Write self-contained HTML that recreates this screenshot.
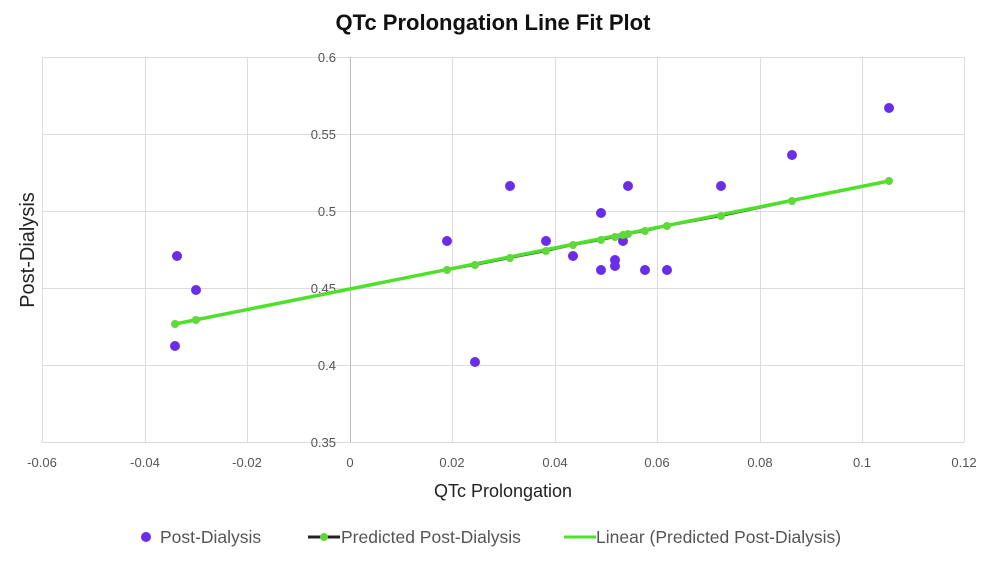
<!DOCTYPE html>
<html><head><meta charset="utf-8"><style>
html,body{margin:0;padding:0;background:#fff;}
svg{display:block;font-family:"Liberation Sans",sans-serif;}
</style></head><body>
<svg width="993" height="561" viewBox="0 0 993 561" xmlns="http://www.w3.org/2000/svg">
<rect width="993" height="561" fill="#fff"/>
<text x="493" y="30" text-anchor="middle" font-size="22" font-weight="bold" fill="#111">QTc Prolongation Line Fit Plot</text>
<g stroke="#dcdcdc" stroke-width="1">
<line x1="42" y1="57.5" x2="964" y2="57.5"/>
<line x1="42" y1="134.5" x2="964" y2="134.5"/>
<line x1="42" y1="211.5" x2="964" y2="211.5"/>
<line x1="42" y1="288.5" x2="964" y2="288.5"/>
<line x1="42" y1="365.5" x2="964" y2="365.5"/>
<line x1="42" y1="442.5" x2="964" y2="442.5"/>
<line x1="42.5" y1="57" x2="42.5" y2="442"/>
<line x1="145.5" y1="57" x2="145.5" y2="442"/>
<line x1="247.5" y1="57" x2="247.5" y2="442"/>
<line x1="452.5" y1="57" x2="452.5" y2="442"/>
<line x1="555.5" y1="57" x2="555.5" y2="442"/>
<line x1="657.5" y1="57" x2="657.5" y2="442"/>
<line x1="760.5" y1="57" x2="760.5" y2="442"/>
<line x1="862.5" y1="57" x2="862.5" y2="442"/>
<line x1="964.5" y1="57" x2="964.5" y2="442"/>
</g>
<line x1="350.5" y1="57" x2="350.5" y2="442" stroke="#bbb"/>
<g font-size="13" fill="#555" text-anchor="end">
<text x="336" y="62">0.6</text><text x="336" y="139">0.55</text><text x="336" y="216">0.5</text>
<text x="336" y="293">0.45</text><text x="336" y="370">0.4</text><text x="336" y="447">0.35</text>
</g>
<g font-size="13" fill="#555" text-anchor="middle">
<text x="42" y="467">-0.06</text><text x="145" y="467">-0.04</text><text x="247" y="467">-0.02</text>
<text x="350" y="467">0</text><text x="452" y="467">0.02</text><text x="555" y="467">0.04</text>
<text x="657" y="467">0.06</text><text x="760" y="467">0.08</text><text x="862" y="467">0.1</text><text x="964" y="467">0.12</text>
</g>
<text x="503" y="497" text-anchor="middle" font-size="18" fill="#222">QTc Prolongation</text>
<text transform="translate(34,250) rotate(-90)" text-anchor="middle" font-size="20" fill="#222">Post-Dialysis</text>
<g fill="#6a2ee8">
<circle cx="177" cy="256" r="5"/><circle cx="196" cy="290" r="5"/><circle cx="175" cy="346" r="5"/>
<circle cx="447" cy="241" r="5"/><circle cx="475" cy="362" r="5"/><circle cx="510" cy="186" r="5"/>
<circle cx="546" cy="241" r="5"/><circle cx="573" cy="256" r="5"/><circle cx="601" cy="213" r="5"/>
<circle cx="601" cy="270" r="5"/><circle cx="615" cy="260" r="5"/><circle cx="615" cy="266" r="5"/>
<circle cx="623" cy="241" r="5"/><circle cx="628" cy="186" r="5"/><circle cx="645" cy="270" r="5"/>
<circle cx="667" cy="270" r="5"/><circle cx="721" cy="186" r="5"/><circle cx="792" cy="155" r="5"/>
<circle cx="889" cy="108" r="5"/>
</g>
<polyline points="175,324 196,320 447,270 475,265 510,258 546,251 573,245 601,240 615,237 623,235 628,234 645,231 667,226 721,216 792,201 889,181" fill="none" stroke="#222" stroke-width="2"/>
<line x1="175" y1="324" x2="889" y2="181" stroke="#4fe02c" stroke-width="3.5"/>
<g fill="#5fd93a">
<circle cx="175" cy="324" r="4"/><circle cx="196" cy="320" r="4"/><circle cx="447" cy="270" r="4"/>
<circle cx="475" cy="265" r="4"/><circle cx="510" cy="258" r="4"/><circle cx="546" cy="251" r="4"/>
<circle cx="573" cy="245" r="4"/><circle cx="601" cy="240" r="4"/><circle cx="615" cy="237" r="4"/>
<circle cx="623" cy="235" r="4"/><circle cx="628" cy="234" r="4"/><circle cx="645" cy="231" r="4"/>
<circle cx="667" cy="226" r="4"/><circle cx="721" cy="216" r="4"/><circle cx="792" cy="201" r="4"/>
<circle cx="889" cy="181" r="4"/>
</g>
<g font-size="17.5" fill="#555">
<circle cx="146" cy="537" r="5" fill="#6a2ee8"/>
<text x="160" y="543">Post-Dialysis</text>
<line x1="308" y1="537" x2="340" y2="537" stroke="#222" stroke-width="3"/>
<circle cx="324" cy="537" r="4" fill="#5fd93a"/>
<text x="341" y="543">Predicted Post-Dialysis</text>
<line x1="564" y1="537" x2="596" y2="537" stroke="#4fe02c" stroke-width="3"/>
<text x="596" y="543">Linear (Predicted Post-Dialysis)</text>
</g>
</svg>
</body></html>
